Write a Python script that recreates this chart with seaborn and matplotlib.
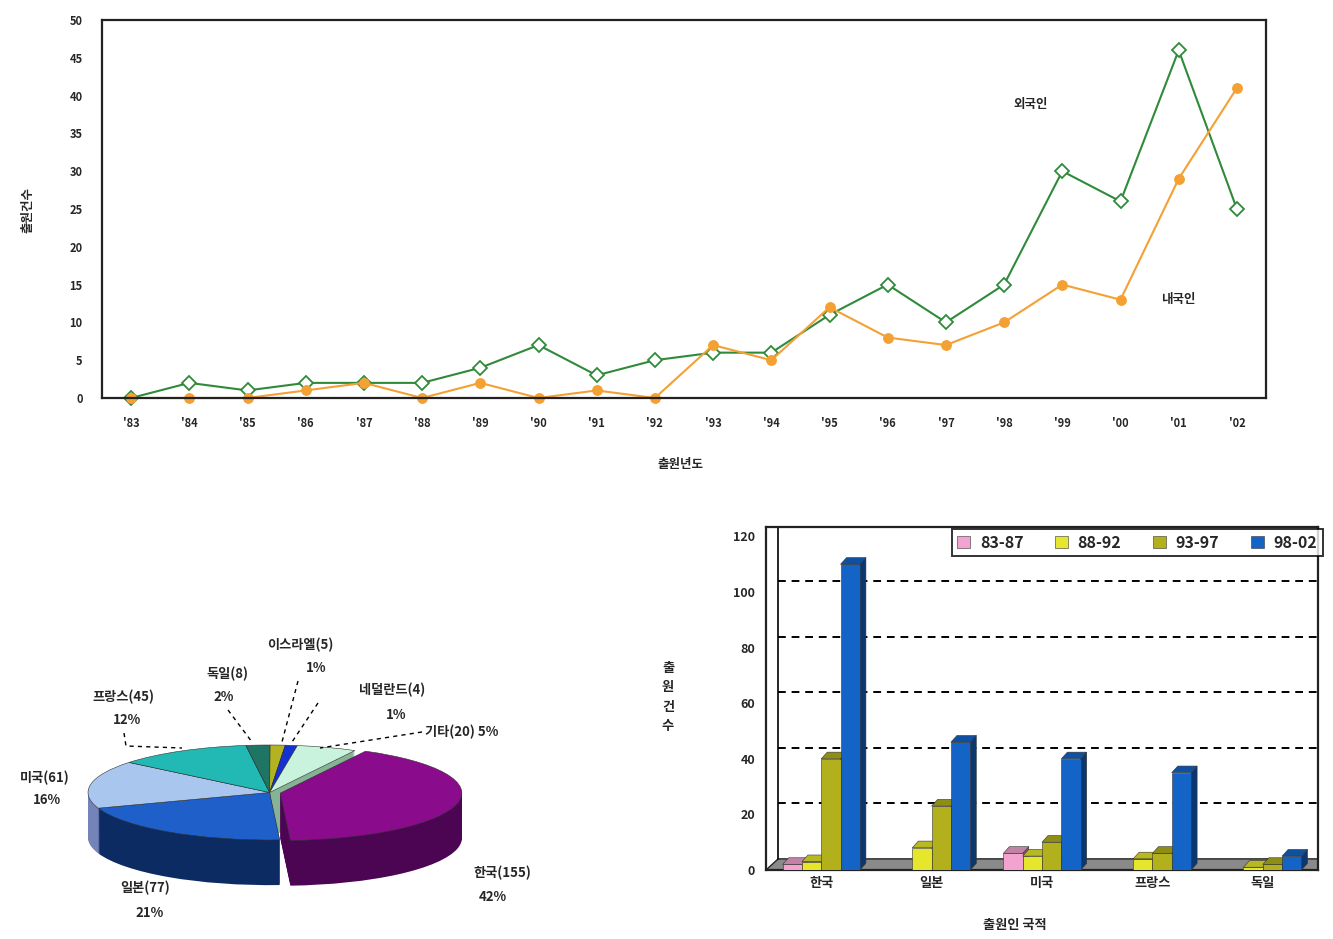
import numpy as np
import pandas as pd
import matplotlib
matplotlib.use("Agg")
import matplotlib.pyplot as plt
from matplotlib.patches import Polygon
from matplotlib.lines import Line2D
import matplotlib.colors as mcolors
import seaborn as sns

# ---- yearly filings (top panel) ----
years = ["'83", "'84", "'85", "'86", "'87", "'88", "'89", "'90", "'91", "'92",
         "'93", "'94", "'95", "'96", "'97", "'98", "'99", "'00", "'01", "'02"]
foreign_filings = [0, 2, 1, 2, 2, 2, 4, 7, 3, 5, 6, 6, 11, 15, 10, 15, 30, 26, 46, 25]
domestic_filings = [0, 0, 0, 1, 2, 0, 2, 0, 1, 0, 7, 5, 12, 8, 7, 10, 15, 13, 29, 41]
series_labels = ["외국인", "내국인"]

# ---- applicant nationality share (pie) ----
pie_countries = ["한국", "일본", "미국", "프랑스", "독일", "이스라엘", "네덜란드", "기타"]
pie_counts = [155, 77, 61, 45, 8, 5, 4, 20]
pie_pcts = ["42%", "21%", "16%", "12%", "2%", "1%", "1%", "5%"]

# ---- filings by nationality and period (bars) ----
bar_countries = ["한국", "일본", "미국", "프랑스", "독일"]
periods = ["83-87", "88-92", "93-97", "98-02"]
p_83_87 = [2, 0, 6, 0, 0]
p_88_92 = [3, 8, 5, 4, 1]
p_93_97 = [40, 23, 10, 6, 2]
p_98_02 = [110, 46, 40, 35, 5]

sns.set_theme(style="white")
plt.rcParams["font.family"] = ["Noto Sans CJK KR", "DejaVu Sans"]
plt.rcParams["font.weight"] = "bold"

W, H = 1333, 939
fig = plt.figure(figsize=(W / 100, H / 100), dpi=100)
fig.patch.set_facecolor("white")


def fx(px):
    return px / W


def fy(py):
    return 1 - py / H


def box(x0, y0, x1, y1):
    return [fx(x0), fy(y1), fx(x1) - fx(x0), fy(y0) - fy(y1)]


# ================= top: yearly line chart =================
GREEN = "#2f8a3a"
ORANGE = "#f4a033"
ax1 = fig.add_axes(box(102, 20, 1266, 398))
pos = np.arange(len(years))
sns.lineplot(x=pos, y=foreign_filings, ax=ax1, color=GREEN, linewidth=1.5,
             marker="D", markersize=7, markerfacecolor="white",
             markeredgecolor=GREEN, markeredgewidth=1.3)
sns.lineplot(x=pos, y=domestic_filings, ax=ax1, color=ORANGE, linewidth=1.5,
             marker="o", markersize=7, markerfacecolor=ORANGE,
             markeredgecolor=ORANGE)
for ln in ax1.lines:
    ln.set_clip_on(False)
ax1.set_xlim(-0.5, len(years) - 0.5)
ax1.set_ylim(0, 50)
ax1.set_xticks(pos)
ax1.set_xticklabels(years, fontsize=8)
ax1.set_xticks(np.arange(-0.5, len(years), 1.0), minor=True)
ax1.set_yticks(np.arange(0, 51, 5))
ax1.set_yticklabels([str(v) for v in range(0, 51, 5)], fontsize=8)
ax1.tick_params(axis="x", which="major", length=0, pad=14)
ax1.tick_params(axis="x", which="minor", direction="in", length=3, width=1, color="black")
ax1.tick_params(axis="y", direction="in", length=3, width=1, color="black", pad=14)
for sp in ax1.spines.values():
    sp.set_color("#222222")
    sp.set_linewidth(1.6)
ax1.set_xlabel("")
ax1.set_ylabel("")
ax1.text(15.45, 38.8, series_labels[0], fontsize=9, ha="center", va="center")
ax1.text(18.0, 13.0, series_labels[1], fontsize=9, ha="center", va="center")
fig.text(fx(28), fy(210), "출원건수", rotation=90, fontsize=9, ha="center", va="center")
fig.text(fx(680), fy(464), "출원년도", fontsize=9, ha="center", va="center")

# ================= bottom left: 3D-style pie =================
top_colors = ["#8a0b8c", "#1f5fc9", "#a9c7ee", "#22b8b4", "#1f7564", "#b3b321", "#1431d2", "#c9f3dc"]
side_colors = ["#4c0552", "#0c2b62", "#7584b8", "#137773", "#10463b", "#6d6d12", "#0a1c80", "#86b295"]
explode = [0.06, 0, 0, 0, 0, 0, 0, 0]
rx_px, ry_px, cx_px, cy_px = 181.6, 47.5, 269.6, 792.5
ax2 = fig.add_axes(box(60, 700, 490, 920))
depth = 0.95
n_layers = 45
for k in range(n_layers):
    yc = -depth + depth * k / n_layers
    ax2.pie(pie_counts, colors=side_colors, startangle=62, counterclock=False,
            explode=explode, center=(0, yc),
            wedgeprops=dict(linewidth=0))
ax2.pie(pie_counts, colors=top_colors, startangle=62, counterclock=False,
        explode=explode, center=(0, 0),
        wedgeprops=dict(linewidth=0.4, edgecolor="#333333"))
ax2.set_aspect("auto")
ax2.set_xlim(-(cx_px - 60) / rx_px, (490 - cx_px) / rx_px)
ax2.set_ylim(-(920 - cy_px) / ry_px, (cy_px - 700) / ry_px)
ax2.axis("off")

pie_text_pos = {
    "한국": ((502, 873), (493, 897)),
    "일본": ((145, 888), (150, 913)),
    "미국": ((45, 778), (47, 800)),
    "프랑스": ((123, 697), (127, 720)),
    "독일": ((227, 674), (224, 697)),
    "이스라엘": ((300, 645), (316, 668)),
    "네덜란드": ((392, 690), (396, 715)),
}
for name, cnt, pct in zip(pie_countries, pie_counts, pie_pcts):
    if name in pie_text_pos:
        (x1, y1), (x2, y2) = pie_text_pos[name]
        fig.text(fx(x1), fy(y1), f"{name}({cnt})", fontsize=9.5, ha="center", va="center")
        fig.text(fx(x2), fy(y2), pct, fontsize=9.5, ha="center", va="center")
    else:
        fig.text(fx(425), fy(732), f"{name}({cnt}) {pct}", fontsize=9.5, ha="left", va="center")

leaders = [
    [(124, 733), (126, 746), (182, 748)],
    [(228, 710), (252, 742)],
    [(298, 681), (282, 742)],
    [(318, 703), (292, 742)],
    [(422, 732), (320, 748)],
]
for pts in leaders:
    xs = [fx(p[0]) for p in pts]
    ys = [fy(p[1]) for p in pts]
    fig.add_artist(Line2D(xs, ys, transform=fig.transFigure, color="black",
                          linewidth=1, linestyle=(0, (3, 3))))

# ================= bottom right: 3D-style grouped bars =================
bar_colors = ["#f3a3cf", "#e6e62c", "#b2b01c", "#1464c8"]
rows = []
for period, vals in zip(periods, [p_83_87, p_88_92, p_93_97, p_98_02]):
    for c, v in zip(bar_countries, vals):
        rows.append({"country": c, "period": period, "count": v})
df = pd.DataFrame(rows)

ax3 = fig.add_axes(box(766, 527, 1318, 870))
ax3.set_facecolor("white")
wall_dx, wall_dy = 0.11, 4.0
xmin, xmax = -0.5, 4.5
ymax = 123.4

# floor
ax3.add_patch(Polygon([(xmin, 0), (xmax, 0), (xmax + wall_dx, wall_dy), (xmin + wall_dx, wall_dy)],
                      closed=True, facecolor="#8a8a8a", edgecolor="#222222", linewidth=1, zorder=1))
# back-wall gridlines
for g in range(20, 120, 20):
    ax3.plot([xmin + wall_dx, xmax], [g + wall_dy, g + wall_dy], color="black",
             linewidth=1.4, linestyle=(0, (4, 3)), zorder=1)
ax3.plot([xmin + wall_dx, xmin + wall_dx], [wall_dy, ymax], color="black", linewidth=1.2, zorder=1)

sns.barplot(data=df, x="country", y="count", hue="period", palette=bar_colors,
            width=0.7, saturation=1, ax=ax3, edgecolor="#333333", linewidth=0.4, zorder=3)

bd_x, bd_y = 0.055, 2.4
bars = sorted([p for p in ax3.patches if hasattr(p, "get_height") and p.get_height() > 0
               and p.get_width() < 0.5], key=lambda p: p.get_x())
for i, p in enumerate(bars):
    x0, w, h = p.get_x(), p.get_width(), p.get_height()
    x1 = x0 + w
    fc = p.get_facecolor()
    z = 3 + i * 0.01
    p.set_zorder(z + 0.005)
    dark = tuple(np.array(mcolors.to_rgb(fc)) * 0.55)
    light = tuple(np.array(mcolors.to_rgb(fc)) * 0.8)
    ax3.add_patch(Polygon([(x1, 0), (x1 + bd_x, bd_y), (x1 + bd_x, h + bd_y), (x1, h)],
                          closed=True, facecolor=dark, edgecolor="#333333", linewidth=0.4, zorder=z))
    ax3.add_patch(Polygon([(x0, h), (x0 + bd_x, h + bd_y), (x1 + bd_x, h + bd_y), (x1, h)],
                          closed=True, facecolor=light, edgecolor="#333333", linewidth=0.4, zorder=z + 0.006))

ax3.set_xlim(xmin, xmax)
ax3.set_ylim(0, ymax)
ax3.set_yticks(np.arange(0, 121, 20))
ax3.set_yticklabels([str(v) for v in range(0, 121, 20)], fontsize=9)
ax3.set_xticks(range(len(bar_countries)))
ax3.set_xticklabels(bar_countries, fontsize=9.5)
ax3.set_xticks(np.arange(0.5, 4.0, 1.0), minor=True)
ax3.tick_params(axis="x", which="major", length=0, pad=4)
ax3.tick_params(axis="x", which="minor", direction="in", length=4, width=1.2, color="black")
ax3.tick_params(axis="y", direction="in", length=3, width=1, color="black", pad=8)
for sp in ax3.spines.values():
    sp.set_color("#222222")
    sp.set_linewidth(1.6)
ax3.set_xlabel("")
ax3.set_ylabel("")
sns.move_legend(ax3, "upper right", bbox_to_anchor=(fx(1331), fy(521)),
                bbox_transform=fig.transFigure, ncol=4, title=None, frameon=True,
                fontsize=11.5, handlelength=0.8, handleheight=0.8, handletextpad=0.6,
                columnspacing=2.0, borderpad=0.35, fancybox=False, edgecolor="black")
ax3.get_legend().get_frame().set_linewidth(1.4)
fig.text(fx(668), fy(697), "출\n원\n건\n수", fontsize=9.5, ha="center", va="center", linespacing=1.5)
fig.text(fx(1015), fy(925), "출원인 국적", fontsize=9.5, ha="center", va="center")

fig.savefig("out.png", dpi=100, facecolor="white")
